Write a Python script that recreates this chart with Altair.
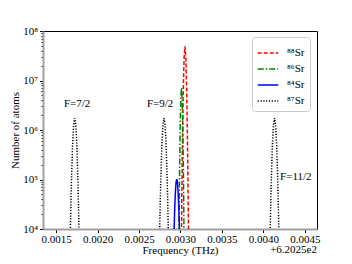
import altair as alt
import pandas as pd

# ---- data (frequency offset in THz, atom number) ----
series_names = ["⁸⁸Sr", "⁸⁶Sr", "⁸⁴Sr", "⁸⁷Sr"]
series_colors = ["#ff0000", "#008000", "#0000ff", "#000000"]
series_dash = [[4, 2], [6, 2, 1.5, 2], [1, 0], [1.2, 1.6]]

f_88 = [0.003004, 0.003012, 0.0030225, 0.003033, 0.0030435, 0.003054,
        0.0030645, 0.003075, 0.0030855, 0.003096, 0.003104]
n_88 = [290, 1.0e4, 4.1e5, 5.9e6, 2.9e7, 4.9e7, 2.9e7, 5.9e6, 4.1e5, 1.0e4, 290]

f_86 = [0.002976, 0.002982, 0.0029895, 0.002997, 0.0030045, 0.003012,
        0.0030195, 0.003027, 0.0030345, 0.003042, 0.003048]
n_86 = [560, 1.0e4, 1.78e5, 1.38e6, 4.7e6, 7.1e6, 4.7e6, 1.38e6, 1.78e5, 1.0e4, 560]

f_84 = [0.002915, 0.002923, 0.002931, 0.002939, 0.002947, 0.002955,
        0.002963, 0.002971, 0.002979, 0.002987, 0.002995]
n_84 = [2800, 1.0e4, 2.8e4, 5.7e4, 8.9e4, 1.02e5, 8.9e4, 5.7e4, 2.8e4, 1.0e4, 2800]

f_87 = [0.001663, 0.001673, 0.001686, 0.001699, 0.001712, 0.001725,
        0.001738, 0.001751, 0.001764, 0.001777, 0.001787,
        0.002739, 0.002749, 0.002762, 0.002775, 0.002788, 0.002801,
        0.002814, 0.002827, 0.002840, 0.002853, 0.002863,
        0.004071, 0.004081, 0.004094, 0.004107, 0.004120, 0.004133,
        0.004146, 0.004159, 0.004172, 0.004185, 0.004195]
n_87 = [1150, 1.0e4, 9.5e4, 4.8e5, 1.26e6, 1.74e6, 1.26e6, 4.8e5, 9.5e4, 1.0e4, 1150,
        1150, 1.0e4, 9.5e4, 4.8e5, 1.26e6, 1.74e6, 1.26e6, 4.8e5, 9.5e4, 1.0e4, 1150,
        1150, 1.0e4, 9.5e4, 4.8e5, 1.26e6, 1.74e6, 1.26e6, 4.8e5, 9.5e4, 1.0e4, 1150]

ann_text = ["F=7/2", "F=9/2", "F=11/2"]
ann_freq = [0.001596, 0.002596, 0.004200]
ann_count = [3.3e6, 3.3e6, 1.12e5]

x_ticks = [0.0015, 0.0020, 0.0025, 0.0030, 0.0035, 0.0040, 0.0045]
y_exponents = [4, 5, 6, 7]
y_minor_mult = [1, 2, 3, 4, 5, 6, 7, 8, 9]
offset_text = "+6.2025e2"

FONT = "Liberation Serif"

rows = []
for name, fs, ns in zip(series_names, [f_88, f_86, f_84, f_87], [n_88, n_86, n_84, n_87]):
    for f, n in zip(fs, ns):
        rows.append({"series": name, "freq": f, "count": n})
df = pd.DataFrame(rows)
ann = pd.DataFrame({"label": ann_text, "freq": ann_freq, "count": ann_count})

y_ticks = [m * 10 ** e for e in y_exponents for m in y_minor_mult] + [1e8]

is_major = "abs(log(datum.value)/LN10 - round(log(datum.value)/LN10)) < 0.000001"
sup = "['⁰','¹','²','³','⁴','⁵','⁶','⁷','⁸','⁹']"

x_scale = alt.Scale(domain=[0.001343, 0.004645], nice=False, zero=False)
y_scale = alt.Scale(type="log", domain=[1e4, 1e8], nice=False)

x_axis = alt.Axis(
    values=x_ticks, format=".4f", title="Frequency (THz)", grid=False,
    labelFont=FONT, labelFontSize=11, titleFont=FONT, titleFontSize=11,
    titleFontWeight="normal", domainColor="#a0a0a0", domainWidth=2,
    tickColor="black", tickSize=3.5, labelPadding=1, titlePadding=0,
    labelFlush=False, labelColor="black", titleColor="black",
)
y_axis = alt.Axis(
    values=y_ticks, title="Number of atoms", grid=False,
    labelExpr=f"{is_major} ? '10' + {sup}[round(log(datum.value)/LN10)] : ''",
    labelFont=FONT, labelFontSize=11, titleFont=FONT, titleFontSize=11,
    titleFontWeight="normal", domainColor="#a0a0a0", domainWidth=2,
    tickColor="black", tickSize={"condition": {"test": is_major, "value": 3.5}, "value": 2},
    labelPadding=2, titlePadding=2, labelFlush=False, labelOverlap=False,
    labelColor="black", titleColor="black",
)

lines = alt.Chart(df).mark_line(strokeWidth=1.5, clip=True).encode(
    x=alt.X("freq:Q", scale=x_scale, axis=x_axis),
    y=alt.Y("count:Q", scale=y_scale, axis=y_axis),
    color=alt.Color(
        "series:N",
        scale=alt.Scale(domain=series_names, range=series_colors),
        legend=alt.Legend(
            title=None, orient="none", legendX=209, legendY=6,
            symbolType="stroke", symbolSize=420, symbolStrokeWidth=1.5,
            labelFont=FONT, labelFontSize=11, labelColor="black",
            strokeColor="#cccccc", fillColor="white", cornerRadius=3,
            padding=5, rowPadding=-4.5, labelOffset=8,
        ),
    ),
    strokeDash=alt.StrokeDash(
        "series:N",
        scale=alt.Scale(domain=series_names, range=series_dash),
        legend=None,
    ),
    detail="series:N",
)

labels = alt.Chart(ann).mark_text(
    align="left", baseline="middle", font=FONT, fontSize=11, color="black"
).encode(
    x=alt.X("freq:Q", scale=x_scale),
    y=alt.Y("count:Q", scale=y_scale),
    text="label:N",
)

chart = (
    alt.layer(lines, labels)
    .properties(
        width=274,
        height=198,
        autosize=alt.AutoSizeParams(type="none"),
        padding={"left": 35, "top": 23, "right": 27, "bottom": 27},
        title=alt.TitleParams(
            text=offset_text, orient="bottom", anchor="end", frame="group",
            font=FONT, fontSize=11, fontWeight="normal", color="black", dy=-12, offset=0,
        ),
    )
    .configure_view(stroke="black", strokeWidth=1)
)

chart.save("out.html", embed_options={"renderer": "svg", "actions": False})
